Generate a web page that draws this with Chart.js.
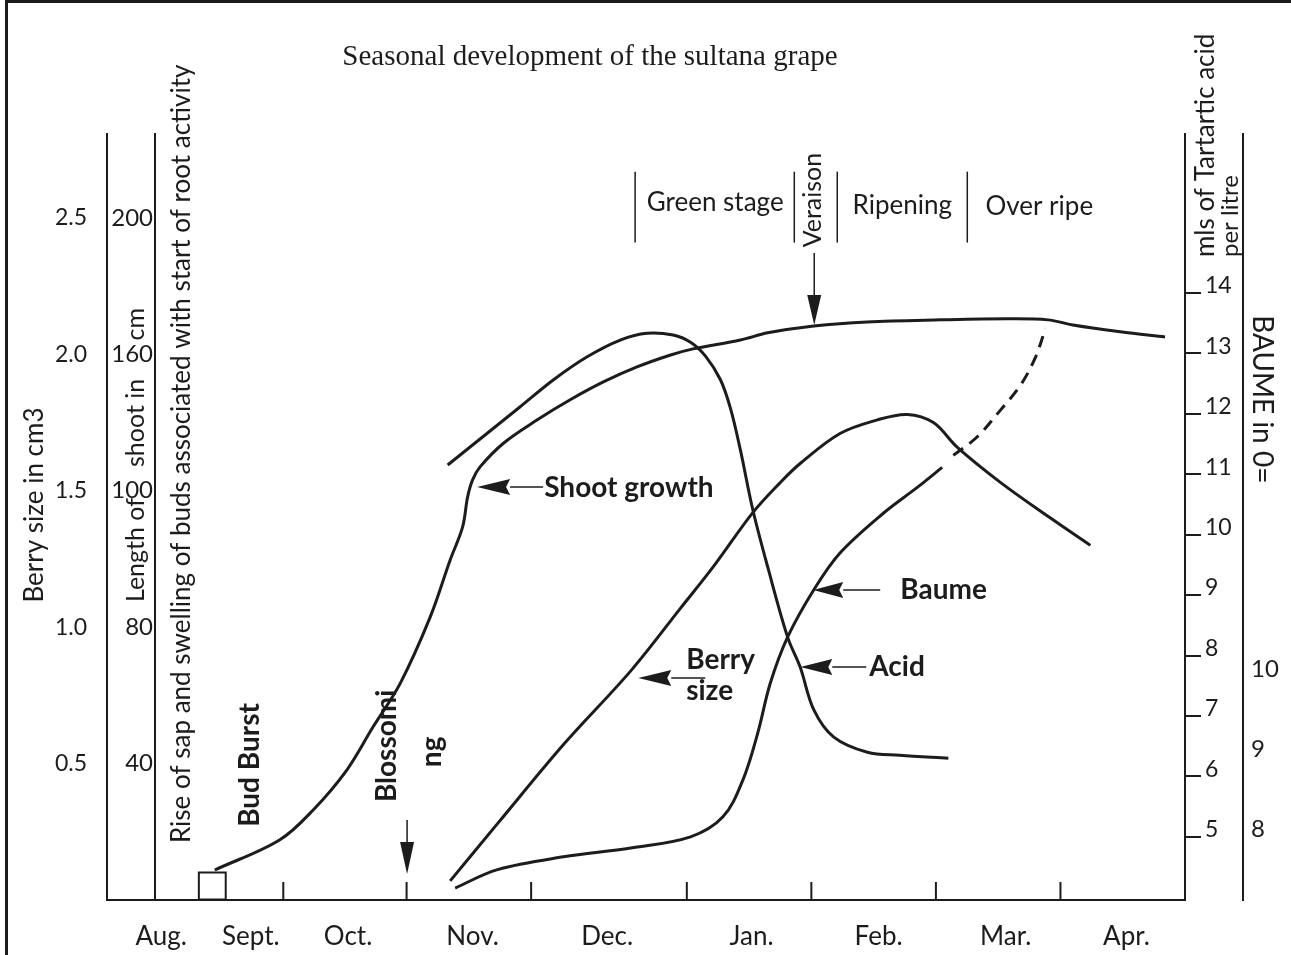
<!DOCTYPE html>
<html>
<head>
<meta charset="utf-8">
<script src="https://cdn.jsdelivr.net/npm/chart.js@4.4.0/dist/chart.umd.min.js"></script>
<style>
  html, body { margin: 0; padding: 0; background: #fff; }
  canvas { display: block; }
</style>
</head>
<body>
<canvas id="grapeChart" width="1291" height="955"></canvas>
<script>
// x is counted in months from the Aug. tick on the base line
var monthNames = ["Aug.", "Sept.", "Oct.", "Nov.", "Dec.", "Jan.", "Feb.", "Mar.", "Apr."];
var monthLabelPos = [0.05, 0.77, 1.55, 2.55, 3.63, 4.79, 5.81, 6.83, 7.80];
var monthTickPos = [0, 1.03, 2.02, 3.02, 4.27, 5.27, 6.27, 7.27, 8.27];

var berryTicks = [0.5, 1.0, 1.5, 2.0, 2.5];
var shootTicks = [40, 80, 120, 160, 200];
var shootTickLabels = ["40", "80", "100", "160", "200"];
var acidTicks = [5, 6, 7, 8, 9, 10, 11, 12, 13, 14];
var baumeTicks = [8, 9, 10];

// shoot length, cm
var shootX = [0.48, 1.00, 1.27, 1.54, 1.75, 1.97, 2.21, 2.37, 2.47, 2.51, 2.55, 2.61, 2.80, 3.07, 3.33, 3.60, 3.87, 4.14, 4.32, 4.70, 4.92, 5.29, 5.72, 6.31, 6.84, 7.17, 7.37, 7.75, 8.11];
var shootY = [8.8, 17.6, 26.4, 38.1, 50.7, 63.6, 83.0, 99.7, 109.4, 118.2, 123.2, 127.0, 134.0, 140.8, 146.6, 151.9, 156.3, 159.8, 161.6, 164.2, 166.3, 168.3, 169.5, 170.1, 170.4, 170.1, 168.6, 166.6, 165.1];

// tartaric acid, mls per litre
var acidX = [2.35, 2.67, 2.93, 3.20, 3.47, 3.74, 3.95, 4.16, 4.30, 4.42, 4.54, 4.62, 4.70, 4.80, 4.92, 5.08, 5.18, 5.29, 5.45, 5.72, 5.98, 6.37];
var acidY = [11.15, 11.68, 12.11, 12.56, 12.94, 13.22, 13.33, 13.30, 13.18, 12.95, 12.56, 12.09, 11.40, 10.41, 9.46, 8.30, 7.81, 7.10, 6.65, 6.40, 6.35, 6.30];

// berry size, cm3
var berryX = [2.37, 2.75, 3.28, 3.82, 4.22, 4.48, 4.80, 5.02, 5.18, 5.50, 5.80, 6.04, 6.25, 6.44, 6.79, 7.19, 7.51];
var berryY = [0.07, 0.28, 0.57, 0.84, 1.07, 1.22, 1.42, 1.53, 1.60, 1.71, 1.76, 1.78, 1.75, 1.66, 1.53, 1.40, 1.30];

// baume, solid part then the dashed guess
var baumeX = [2.41, 2.75, 3.28, 3.82, 4.30, 4.56, 4.72, 4.84, 4.94, 5.08, 5.29, 5.50, 5.85, 6.12, 6.32];
var baumeY = [7.27, 7.50, 7.66, 7.77, 7.91, 8.16, 8.62, 9.21, 9.83, 10.41, 11.00, 11.46, 11.96, 12.28, 12.53];
var baumeDashX = [6.41, 6.60, 6.79, 6.95, 7.07, 7.15];
var baumeDashY = [12.68, 12.91, 13.25, 13.56, 13.91, 14.27];

var budBurstX = [0.46];
var budBurstY = [4.1];

var ink = "#1c1c1c";

function pts(xs, ys) {
  return xs.map(function (x, i) { return { x: x, y: ys[i] }; });
}

function curve(data, axis, dashed) {
  return {
    data: data,
    yAxisID: axis,
    showLine: true,
    borderColor: ink,
    borderWidth: 3,
    borderDash: dashed ? [12, 8] : [],
    pointRadius: 0,
    tension: 0.35,
    clip: false
  };
}

function txt(ctx, s, x, y, font, rot, align) {
  ctx.save();
  ctx.translate(x, y);
  ctx.rotate(rot || 0);
  ctx.font = font;
  ctx.textAlign = align || "center";
  ctx.textBaseline = "middle";
  ctx.fillText(s, 0, 0);
  ctx.restore();
}

var notes = {
  id: "notes",
  afterDraw: function (chart) {
    var ctx = chart.ctx;
    var sx = chart.scales.x, sy = chart.scales.y;
    var area = chart.chartArea;
    function px(m) { return sx.getPixelForValue(m); }
    function py(b) { return sy.getPixelForValue(b); }
    var up = -Math.PI / 2;
    ctx.save();
    ctx.fillStyle = ink;
    ctx.strokeStyle = ink;

    // frame round the figure
    ctx.lineWidth = 3;
    ctx.beginPath();
    ctx.moveTo(6.5, chart.height);
    ctx.lineTo(6.5, 1.5);
    ctx.lineTo(chart.width, 1.5);
    ctx.stroke();

    // base line carried under the left scales, month ticks pointing up
    ctx.lineWidth = 2;
    ctx.beginPath();
    ctx.moveTo(sy.right, area.bottom);
    ctx.lineTo(area.left, area.bottom);
    ctx.stroke();
    monthTickPos.forEach(function (m) {
      ctx.beginPath();
      ctx.moveTo(px(m), area.bottom);
      ctx.lineTo(px(m), area.bottom - 18);
      ctx.stroke();
    });

    txt(ctx, "Seasonal development of the sultana grape", 590, 57, '29px "Liberation Serif"');

    // axis titles
    txt(ctx, "Berry size in cm3", sy.left + 35, py(1.448), "26px Lato", up);
    var shootCol = chart.scales.yShoot.left + 29;
    txt(ctx, "Length of", shootCol, py(1.283), "25px Lato", up);
    txt(ctx, "shoot in", shootCol, py(1.749), "25px Lato", up);
    txt(ctx, "cm", shootCol, py(2.111), "25px Lato", up);
    txt(ctx, "Rise of sap and swelling of buds associated with start of root activity",
      px(0.217), py(0.209), "26px Lato", up, "left");
    var acidLeft = chart.scales.yAcid.left;
    txt(ctx, "mls of Tartartic acid", acidLeft + 21, py(2.357), "26px Lato", up, "left");
    txt(ctx, "per litre", acidLeft + 45, py(2.357), "24px Lato", up, "left");
    txt(ctx, "BAUME in 0=", chart.scales.yBaume.left + 19, py(2.144), "28px Lato", Math.PI / 2, "left");

    // stages of the berry
    ctx.lineWidth = 1.5;
    [3.855, 5.133, 5.478, 6.522].forEach(function (m) {
      ctx.beginPath();
      ctx.moveTo(px(m), py(2.67));
      ctx.lineTo(px(m), py(2.41));
      ctx.stroke();
    });
    ctx.save();
    ctx.font = "26px Lato";
    ctx.textAlign = "center";
    ctx.textBaseline = "alphabetic";
    ctx.fillText("Green stage", px(4.498), py(2.526));
    ctx.fillText("Ripening", px(6.0), py(2.515));
    ctx.fillText("Over ripe", px(7.10), py(2.511));
    ctx.restore();
    txt(ctx, "Veraison", px(5.285), py(2.566), "25px Lato", up);

    function downArrow(m, b0, b1, b2) {
      var x = px(m);
      ctx.lineWidth = 1.5;
      ctx.beginPath();
      ctx.moveTo(x, py(b0));
      ctx.lineTo(x, py(b1));
      ctx.stroke();
      ctx.beginPath();
      ctx.moveTo(x - 7, py(b1));
      ctx.lineTo(x + 7, py(b1));
      ctx.lineTo(x, py(b2));
      ctx.closePath();
      ctx.fill();
    }
    function leftArrow(tip, b, base, end) {
      var y = py(b);
      ctx.lineWidth = 1.5;
      ctx.beginPath();
      ctx.moveTo(px(base), y);
      ctx.lineTo(px(end), y);
      ctx.stroke();
      ctx.beginPath();
      ctx.moveTo(px(tip), y);
      ctx.lineTo(px(base), y - 8);
      ctx.lineTo(px(base) - 4, y);
      ctx.lineTo(px(base), y + 8);
      ctx.closePath();
      ctx.fill();
    }

    downArrow(5.293, 2.372, 2.218, 2.108);
    downArrow(2.024, 0.293, 0.213, 0.095);

    var bold = "bold 28px Lato";
    leftArrow(2.586, 1.514, 2.851, 3.116);
    txt(ctx, "Shoot growth", px(3.125), py(1.512), bold, 0, "left");
    leftArrow(3.880, 0.814, 4.145, 4.418);
    txt(ctx, "Berry", px(4.265), py(0.880), bold, 0, "left");
    txt(ctx, "size", px(4.265), py(0.765), bold, 0, "left");
    leftArrow(5.285, 1.136, 5.526, 5.823);
    txt(ctx, "Baume", px(5.984), py(1.136), bold, 0, "left");
    leftArrow(5.181, 0.854, 5.438, 5.711);
    txt(ctx, "Acid", px(5.735), py(0.854), bold, 0, "left");

    txt(ctx, "Bud Burst", px(0.763), py(0.495), bold, up);
    txt(ctx, "Blossomi", px(1.863), py(0.565), bold, up);
    txt(ctx, "ng", px(2.225), py(0.543), bold, up);

    ctx.restore();
  }
};

Chart.defaults.font.family = "Lato";
Chart.defaults.color = ink;

new Chart(document.getElementById("grapeChart"), {
  type: "scatter",
  data: {
    datasets: [
      curve(pts(shootX, shootY), "yShoot"),
      curve(pts(acidX, acidY), "yAcid"),
      curve(pts(berryX, berryY), "y"),
      curve(pts(baumeX, baumeY), "yBaume"),
      curve(pts(baumeDashX, baumeDashY), "yBaume", true),
      {
        data: pts(budBurstX, budBurstY),
        yAxisID: "yShoot",
        pointStyle: "rect",
        pointRadius: 19,
        backgroundColor: "#fff",
        borderColor: ink,
        borderWidth: 2,
        clip: false
      }
    ]
  },
  options: {
    responsive: false,
    animation: false,
    devicePixelRatio: 1,
    layout: { padding: { top: 134, left: 0, right: 0, bottom: 0 } },
    plugins: { legend: { display: false }, tooltip: { enabled: false } },
    scales: {
      x: {
        type: "linear",
        min: 0,
        max: 8.27,
        afterBuildTicks: function (s) { s.ticks = monthLabelPos.map(function (v) { return { value: v }; }); },
        afterFit: function (s) { s.height = 55; },
        ticks: {
          autoSkip: false,
          maxRotation: 0,
          padding: 21,
          font: { size: 26 },
          callback: function (v, i) { return monthNames[i]; }
        },
        grid: { display: false, drawTicks: false },
        border: { color: ink, width: 2 }
      },
      y: {
        position: "left",
        weight: 1,
        min: 0,
        max: 2.808,
        afterBuildTicks: function (s) { s.ticks = berryTicks.map(function (v) { return { value: v }; }); },
        afterFit: function (s) { s.width = 107; },
        ticks: {
          padding: 20,
          font: { size: 23 },
          callback: function (v) { return v.toFixed(1); }
        },
        grid: { display: false, drawTicks: false },
        border: { color: ink, width: 2 }
      },
      yShoot: {
        position: "left",
        weight: 0,
        min: 0,
        max: 224.6,
        afterBuildTicks: function (s) { s.ticks = shootTicks.map(function (v) { return { value: v }; }); },
        afterFit: function (s) { s.width = 48; },
        ticks: {
          padding: 2,
          font: { size: 24 },
          callback: function (v, i) { return shootTickLabels[i]; }
        },
        grid: { display: false, drawTicks: false },
        border: { color: ink, width: 2 }
      },
      yAcid: {
        position: "right",
        weight: 0,
        min: 3.957,
        max: 16.624,
        afterBuildTicks: function (s) { s.ticks = acidTicks.map(function (v) { return { value: v }; }); },
        afterFit: function (s) { s.width = 58; },
        ticks: {
          padding: 4,
          labelOffset: -7,
          font: { size: 23 }
        },
        grid: { display: true, drawOnChartArea: false, drawTicks: true, tickLength: 16, color: ink, lineWidth: 2 },
        border: { color: ink, width: 2 }
      },
      yBaume: {
        position: "right",
        weight: 1,
        min: 7.12,
        max: 16.70,
        afterBuildTicks: function (s) { s.ticks = baumeTicks.map(function (v) { return { value: v }; }); },
        afterFit: function (s) { s.width = 48; },
        ticks: {
          padding: 8,
          font: { size: 24 }
        },
        grid: { display: false, drawTicks: false },
        border: { color: ink, width: 2 }
      }
    }
  },
  plugins: [notes]
});
</script>
</body>
</html>
